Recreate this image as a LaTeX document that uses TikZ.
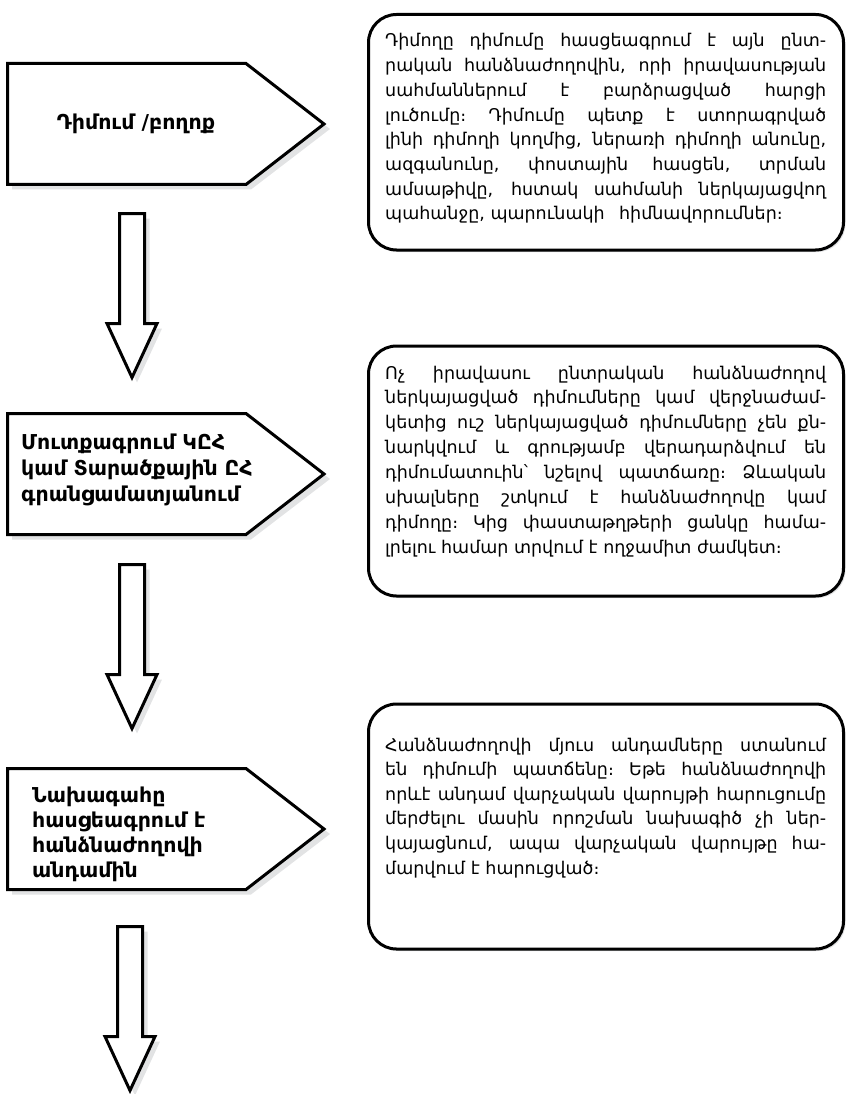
\documentclass[tikz,border=0pt]{standalone}
\usepackage{fontspec}
\setmainfont{DejaVu Sans}
\definecolor{shade}{HTML}{E2E3E4}
\tikzset{
  outline/.style={line width=3pt, draw=black, fill=white, line join=miter},
  shadowfill/.style={fill=shade, draw=none},
  rbox/.style={line width=3pt, draw=black, fill=white, rounded corners=28pt},
  rshadow/.style={fill=shade, draw=none, rounded corners=28pt},
  bodyline/.style={anchor=base west, inner sep=0pt, font=\fontsize{17.5}{21}\selectfont},
  leftlabel/.style={anchor=base west, inner sep=0pt, text width=280pt, align=left,
    font=\bfseries\fontsize{20.5}{26}\selectfont},
}
% justified line / last (ragged) line of a text block
\newcommand\tline[3]{\node[bodyline] (#1) at (385,#2) {\hbox to 441pt{\spaceskip=0.32em plus 1fil\relax #3}};}
\newcommand\tlast[3]{\node[bodyline] (#1) at (385,#2) {\hbox to 441pt{#3\hfil}};}
\newcommand\pentbox[1]{%
  \begin{scope}[shift={(0,#1)}]
    \fill[shadowfill] (12,5) -- (251,5) -- (330,65.5) -- (251,126) -- (12,126) -- cycle;
    \draw[outline] (7.5,0) -- (246,0) -- (324,60.5) -- (246,121) -- (7.5,121) -- cycle;
  \end{scope}}
\newcommand\blockarrow[2]{%
  \begin{scope}[shift={(#1,#2)}]
    \fill[shadowfill] (5,5) -- (30,5) -- (30,115) -- (42.5,115) -- (17.5,169) -- (-7.5,115) -- (5,115) -- cycle;
    \draw[outline] (0,0) -- (25,0) -- (25,110) -- (37.5,110) -- (12.5,164) -- (-12.5,110) -- (0,110) -- cycle;
  \end{scope}}
\begin{document}
\begin{tikzpicture}[x=1pt,y=-1pt]
\useasboundingbox (0,0) rectangle (849,1094);

% left pentagon boxes
\pentbox{63.5}
\pentbox{413.5}
\pentbox{768.5}

% arrows
\blockarrow{119.5}{213.5}
\blockarrow{119.5}{564.5}
\blockarrow{117.5}{926.5}

% right rounded boxes
\fill[rshadow] (370.5,16.5) rectangle (845.5,252);
\draw[rbox] (368.5,14.5) rectangle (843.5,250);
\fill[rshadow] (370.5,348) rectangle (845.5,598);
\draw[rbox] (368.5,346) rectangle (843.5,596);
\fill[rshadow] (370.5,706) rectangle (845.5,951);
\draw[rbox] (368.5,704) rectangle (843.5,949);

% left labels
\node[anchor=center, inner sep=0pt, font=\bfseries\fontsize{20.5}{24}\selectfont] (l1) at (136,124) {Դիմում /բողոք};
\node[leftlabel] (l2) at (21,449) {Մուտքագրում ԿԸՀ\\կամ Տարածքային ԸՀ\\գրանցամատյանում};
\node[leftlabel, font=\bfseries\fontsize{20.5}{25}\selectfont] (l3) at (32,802) {Նախագահը\\հասցեագրում է\\հանձնաժողովի\\անդամին};

% right text, box 1
\tline{a1}{47}{Դիմողը դիմումը հասցեագրում է այն ընտ-}
\tline{a2}{71.7}{րական հանձնաժողովին, որի իրավասության}
\tline{a3}{96.4}{սահմաններում է բարձրացված հարցի}
\tline{a4}{121.1}{լուծումը։ Դիմումը պետք է ստորագրված}
\tline{a5}{145.8}{լինի դիմողի կողմից, ներառի դիմողի անունը,}
\tline{a6}{170.5}{ազգանունը, փոստային հասցեն, տրման}
\tline{a7}{195.2}{ամսաթիվը, հստակ սահմանի ներկայացվող}
\tlast{a8}{219.9}{պահանջը, պարունակի\enspace\ հիմնավորումներ։}

% right text, box 2
\tline{b1}{379}{Ոչ իրավասու ընտրական հանձնաժողով}
\tline{b2}{403.9}{ներկայացված դիմումները կամ վերջնաժամ-}
\tline{b3}{428.8}{կետից ուշ ներկայացված դիմումները չեն քն-}
\tline{b4}{453.7}{նարկվում և գրությամբ վերադարձվում են}
\tline{b5}{478.6}{դիմումատուին՝ նշելով պատճառը։ Ձևական}
\tline{b6}{503.5}{սխալները շտկում է հանձնաժողովը կամ}
\tline{b7}{528.4}{դիմողը։ Կից փաստաթղթերի ցանկը համա-}
\tlast{b8}{553.3}{լրելու համար տրվում է ողջամիտ ժամկետ։}

% right text, box 3
\tline{c1}{751}{Հանձնաժողովի մյուս անդամները ստանում}
\tline{c2}{775.6}{են դիմումի պատճենը։ Եթե հանձնաժողովի}
\tline{c3}{800.2}{որևէ անդամ վարչական վարույթի հարուցումը}
\tline{c4}{824.8}{մերժելու մասին որոշման նախագիծ չի ներ-}
\tline{c5}{849.4}{կայացնում, ապա վարչական վարույթը հա-}
\tlast{c6}{874}{մարվում է հարուցված։}
\end{tikzpicture}
\end{document}
